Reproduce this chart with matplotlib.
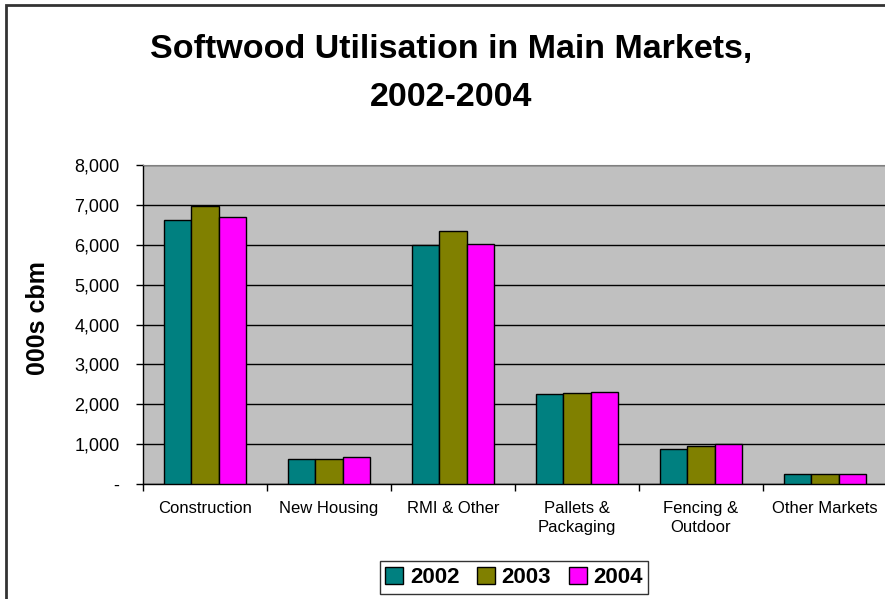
import matplotlib
matplotlib.use('Agg')
import matplotlib.pyplot as plt
import numpy as np
from matplotlib.patches import Rectangle
from matplotlib.ticker import FuncFormatter, MultipleLocator

plt.rcParams['font.family'] = ['Liberation Sans', 'DejaVu Sans']

markets = ['Construction', 'New Housing', 'RMI & Other',
           'Pallets &\nPackaging', 'Fencing &\nOutdoor', 'Other Markets']
years = ['2002', '2003', '2004']
vol_2002 = [6630, 630, 5990, 2250, 890, 245]
vol_2003 = [6980, 630, 6350, 2280, 950, 245]
vol_2004 = [6700, 670, 6030, 2310, 1010, 245]
colors = ['#008080', '#808000', '#FF00FF']

fig = plt.figure(figsize=(8.85, 5.99), dpi=100)
ax = fig.add_axes([0.1616, 0.192, 0.8404, 0.5325])

x = np.arange(len(markets))
w = 0.222
for i, (vals, c, lab) in enumerate(zip([vol_2002, vol_2003, vol_2004], colors, years)):
    ax.bar(x + (i - 1) * w, vals, w, color=c, edgecolor='black', lw=1.0,
           label=lab, zorder=3)

ax.set_facecolor('#C0C0C0')
ax.set_xlim(-0.5, len(markets) - 0.5)
ax.set_ylim(0, 8000)
ax.yaxis.set_major_locator(MultipleLocator(1000))
ax.yaxis.set_major_formatter(FuncFormatter(lambda v, p: '-' if v == 0 else f'{v:,.0f}'))
ax.grid(axis='y', color='black', lw=1.0, zorder=1)

# category boundaries carry the ticks, names sit between them
ax.set_xticks(np.arange(len(markets) + 1) - 0.5)
ax.set_xticklabels([])
ax.set_xticks(x, minor=True)
ax.set_xticklabels(markets, minor=True, fontsize=12, linespacing=1.35)
ax.tick_params(axis='x', which='major', direction='out', length=5, width=1)
ax.tick_params(axis='x', which='minor', length=0, pad=12)
ax.tick_params(axis='y', direction='out', length=5, width=1, labelsize=13, pad=12)

for s in ['left', 'bottom']:
    ax.spines[s].set_color('black')
    ax.spines[s].set_linewidth(1.0)
ax.spines['top'].set_color('#808080')
ax.spines['right'].set_visible(False)

ax.set_ylabel('000s cbm', fontsize=18, fontweight='bold')
ax.yaxis.set_label_coords(-0.1256, 0.52)

fig.text(0.51, 0.918, 'Softwood Utilisation in Main Markets,', ha='center', va='center',
         fontsize=24.5, fontweight='bold')
fig.text(0.51, 0.838, '2002-2004', ha='center', va='center',
         fontsize=24.5, fontweight='bold')

leg = fig.legend(loc='center', bbox_to_anchor=(0.581, 0.036), ncol=3,
                 prop={'size': 16, 'weight': 'bold'}, frameon=True, fancybox=False,
                 edgecolor='black', handlelength=0.8, handleheight=0.8,
                 handletextpad=0.3, columnspacing=0.8, borderpad=0.25,
                 borderaxespad=0)
leg.get_frame().set_linewidth(1.0)

# outer chart border
fig.patches.append(Rectangle((6 / 885, -0.1), 1.2, 1 - 5 / 599 + 0.1,
                             transform=fig.transFigure, fill=False,
                             edgecolor='#333333', lw=2))

fig.savefig('out.png', dpi=100)
